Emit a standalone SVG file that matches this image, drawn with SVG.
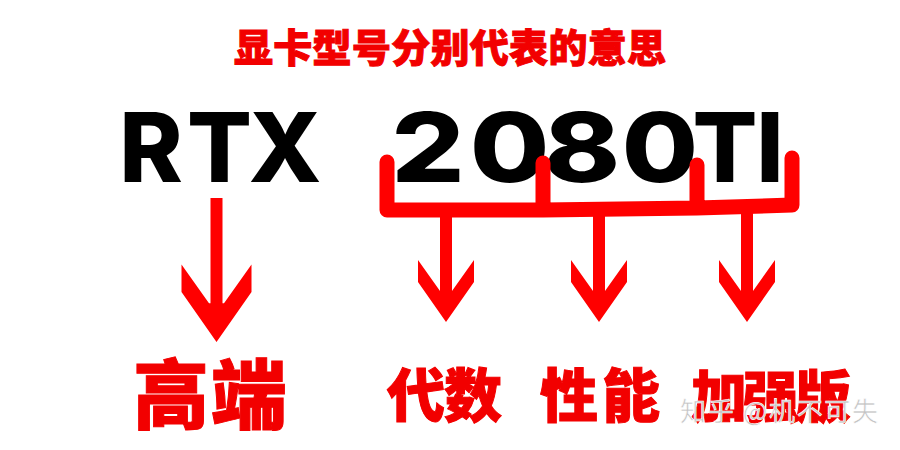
<svg xmlns="http://www.w3.org/2000/svg" width="900" height="450" viewBox="0 0 900 450">
<style>
.cjk{font-family:"Noto Sans CJK SC","Noto Sans",sans-serif;font-weight:900;fill:#f20000;stroke:#f20000;stroke-width:1}
.big{font-family:Inter,"Liberation Sans",sans-serif;font-weight:800;font-size:96px;fill:#000;text-anchor:middle}
.stem{stroke:#ff0000;stroke-width:12;fill:none}
.brk{stroke:#ff0000;stroke-width:15;fill:none;stroke-linecap:round;stroke-linejoin:round}
.wm{font-family:"Noto Sans CJK SC","Noto Sans",sans-serif;font-size:26px;fill:#c4c4c4;stroke:#fff;stroke-width:0.6}
</style>
<defs>
<polygon id="head" points="-6,-31 -28,-62 -28,-40 0,0 28,-40 28,-62 6,-31" fill="#ff0000"/>
</defs>
<rect width="900" height="450" fill="#fff"/>
<g id="title">
<text class="cjk" x="450" y="62" font-size="39" text-anchor="middle" textLength="432" lengthAdjust="spacing">显卡型号分别代表的意思</text>
</g>
<g id="rtx">
<text class="big" x="151 219.5 285" y="182">RTX</text>
</g>
<g id="model">
<text class="big" transform="translate(428,182) scale(1.2,1)">2</text>
<text class="big" transform="translate(509.5,182) scale(1.2,1)">0</text>
<text class="big" transform="translate(582,182) scale(1.2,1)">8</text>
<text class="big" transform="translate(660,182) scale(1.15,1)">0</text>
<text class="big" x="725 770" y="182">TI</text>
</g>
<g id="connectors">
<path class="brk" d="M387,162 L387,210 L543,210 L697,208 L792,205 L792,158 M543,163 L543,210 M697,165 L697,208"/>
<line class="stem" x1="216.5" y1="198" x2="216.5" y2="305" stroke-width="13"/>
<use href="#head" transform="translate(216.5,342) scale(1.25)"/>
<line class="stem" x1="446" y1="212" x2="446" y2="294"/>
<use href="#head" transform="translate(446,322)"/>
<line class="stem" x1="599" y1="210" x2="599" y2="294"/>
<use href="#head" transform="translate(599,322)"/>
<line class="stem" x1="747" y1="207" x2="747" y2="294"/>
<use href="#head" transform="translate(747,322)"/>
</g>
<g id="gaoduan">
<text class="cjk" x="133" y="423" font-size="76" textLength="154" lengthAdjust="spacing">高端</text>
</g>
<g id="daishu">
<text class="cjk" x="387" y="417" font-size="58" textLength="115" lengthAdjust="spacing">代数</text>
</g>
<g id="xingneng">
<text class="cjk" x="540" y="417" font-size="58" textLength="120" lengthAdjust="spacing">性能</text>
</g>
<g id="jiaqiangban">
<text class="cjk" x="691" y="417" font-size="56" textLength="160" lengthAdjust="spacing">加强版</text>
</g>
<g id="watermark">
<text class="wm" x="680" y="421" textLength="198" lengthAdjust="spacing">知乎 @机不可失</text>
</g>
</svg>
